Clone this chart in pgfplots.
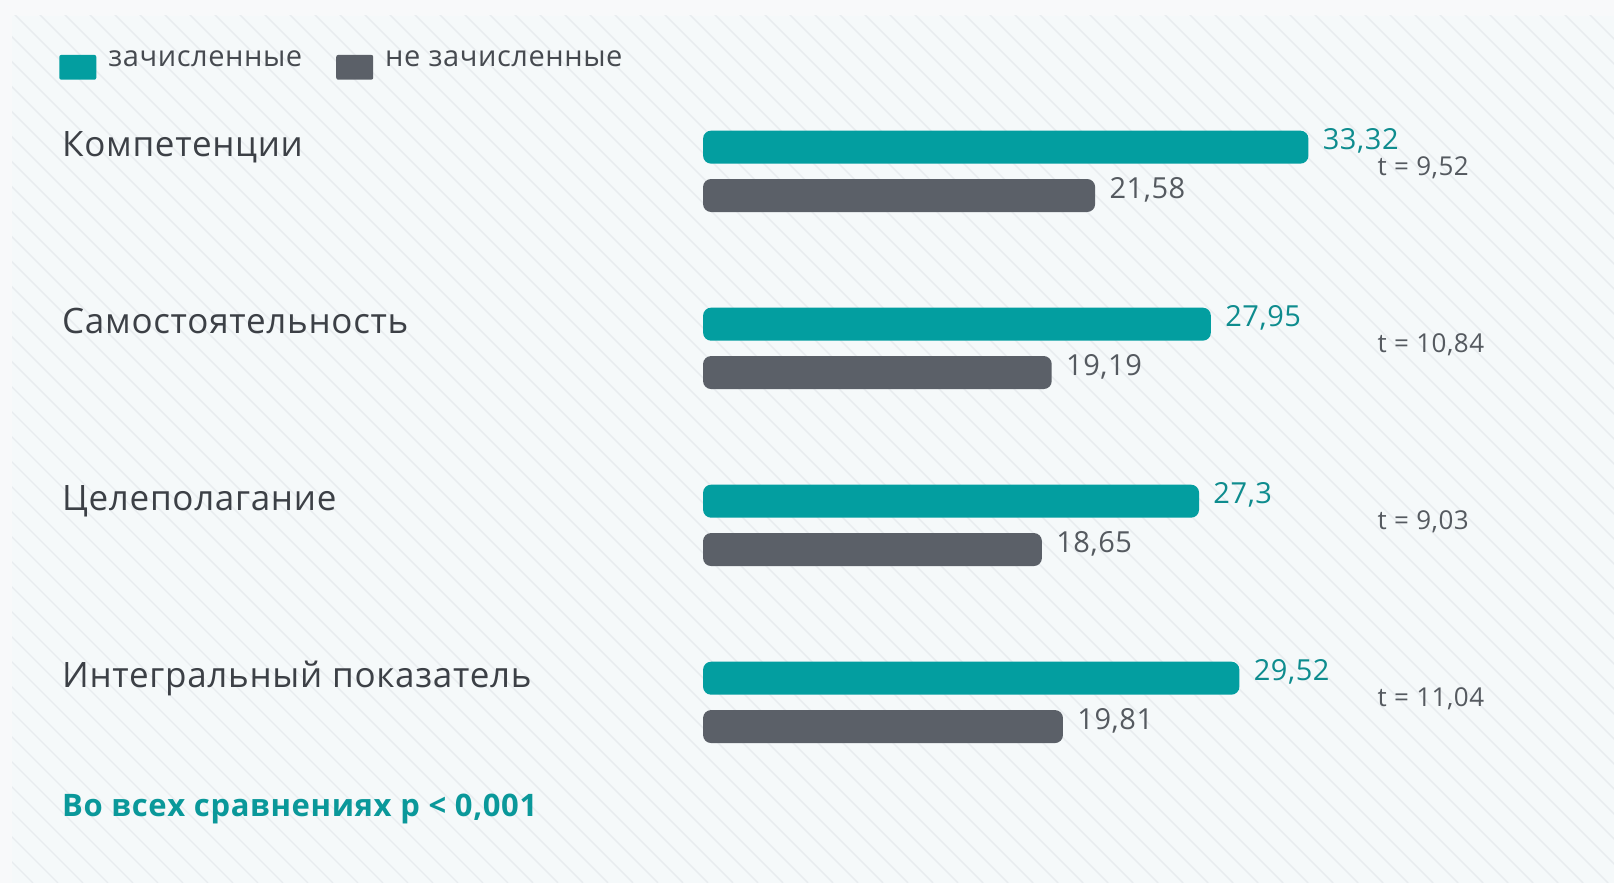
\documentclass[border=0pt]{standalone}
\usepackage{fontspec}
\setmainfont{Open Sans}[LetterSpace=2]
\usepackage{pgfplots}
\pgfplotsset{compat=1.18}
\definecolor{tealbar}{RGB}{3,158,160}
\definecolor{tealtxt}{RGB}{14,140,142}
\definecolor{tealbold}{RGB}{10,152,154}
\definecolor{graybar}{RGB}{91,96,104}
\definecolor{graytxt}{RGB}{85,90,96}
\definecolor{cattxt}{RGB}{60,64,70}
\definecolor{legtxt}{RGB}{70,74,80}
\definecolor{bgout}{RGB}{248,249,250}
\definecolor{bgin}{RGB}{245,249,250}
\definecolor{hatchc}{RGB}{232,236,239}
\tikzset{catlab/.style={anchor=base west, inner sep=0pt, text=cattxt, font=\fontsize{17.5}{19}\selectfont},
  tlab/.style={anchor=base west, inner sep=0pt, text=graytxt, font=\fontsize{13}{15}\selectfont}}
\begin{document}
\begin{tikzpicture}
\useasboundingbox (0,0) rectangle (807pt,441.5pt);
\fill[bgout] (0,0) rectangle (807pt,441.5pt);
\begin{scope}
\clip (6pt,0) rectangle (807pt,433.5pt);
\fill[bgin] (6pt,0) rectangle (807pt,433.5pt);
\foreach \i in {-40,...,70} \draw[hatchc, line width=0.7pt] (\i*12.5pt,441.5pt) -- ++(441.5pt,-441.5pt);
\end{scope}
\begin{axis}[at={(0,0)}, anchor=south west, scale only axis,
  width=807pt, height=441.5pt,
  xmin=-38.70, xmax=50.14, ymin=-1.0203, ymax=3.968,
  hide axis, clip=false,
  legend style={at={(axis description cs:0.0365,0.948)}, anchor=north west, draw=none, fill=none,
    font=\fontsize{14.5}{16}\selectfont, text=legtxt, inner sep=0pt,
    /tikz/every odd column/.append style={column sep=4pt},
    /tikz/every even column/.append style={column sep=15pt}},
  legend columns=2,
  legend image code/.code={\fill[#1, rounded corners=1pt] (0pt,-10pt) rectangle (18.5pt,2.4pt);},
]
\addlegendimage{fill=tealbar, draw=none}
\addlegendentry{зачисленные}
\addlegendimage{fill=graybar, draw=none}
\addlegendentry{не зачисленные}

\addplot[xbar, bar width=16.5pt, bar shift=0pt, fill=tealbar, draw=none, rounded corners=4pt, forget plot,
  point meta=explicit symbolic, nodes near coords,
  every node near coord/.style={anchor=west, inner sep=0pt, xshift=7pt, yshift=3pt, text=tealtxt, font=\fontsize{14.5}{16}\selectfont}]
  coordinates {(33.32,3.1366) [33,32] (27.95,2.1366) [27,95] (27.3,1.1366) [27,3] (29.52,0.1366) [29,52]};
\addplot[xbar, bar width=16.5pt, bar shift=0pt, fill=graybar, draw=none, rounded corners=4pt, forget plot,
  point meta=explicit symbolic, nodes near coords,
  every node near coord/.style={anchor=west, inner sep=0pt, xshift=7pt, yshift=3pt, text=graytxt, font=\fontsize{14.5}{16}\selectfont}]
  coordinates {(21.58,2.8634) [21,58] (19.19,1.8634) [19,19] (18.65,0.8634) [18,65] (19.81,-0.1366) [19,81]};

\node[catlab] at (axis cs:-35.30,3.084) {Компетенции};
\node[catlab] at (axis cs:-35.30,2.084) {Самостоятельность};
\node[catlab] at (axis cs:-35.30,1.084) {Целеполагание};
\node[catlab] at (axis cs:-35.30,0.084) {Интегральный показатель};
\node[tlab] at (axis cs:37.11,2.974) {t = 9,52};
\node[tlab] at (axis cs:37.11,1.974) {t = 10,84};
\node[tlab] at (axis cs:37.11,0.974) {t = 9,03};
\node[tlab] at (axis cs:37.11,-0.026) {t = 11,04};
\node[anchor=base west, inner sep=0pt, text=tealbold, font=\bfseries\fontsize{15.5}{17}\selectfont] at (axis cs:-35.30,-0.642) {Во всех сравнениях р < 0,001};
\end{axis}
\end{tikzpicture}
\end{document}
